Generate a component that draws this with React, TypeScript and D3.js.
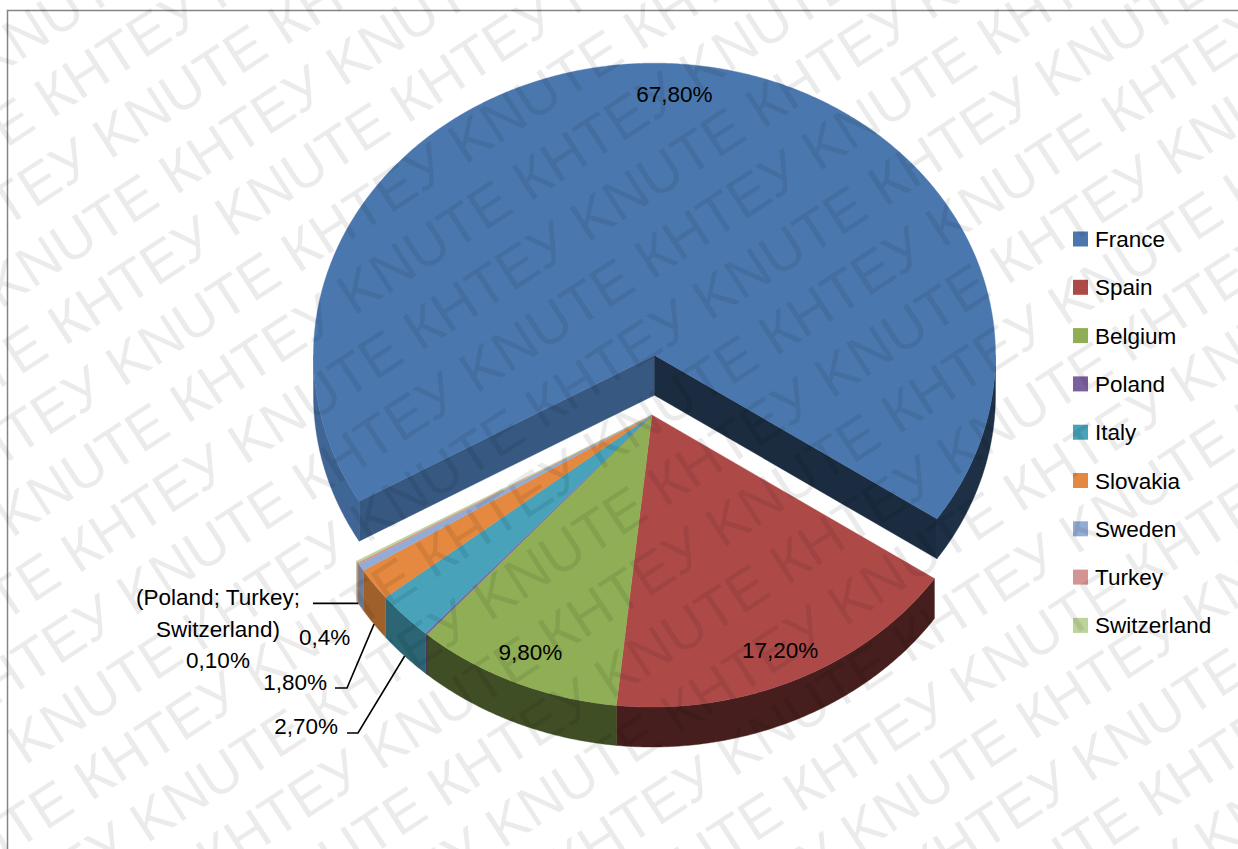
import React from 'react';
import * as d3 from 'd3';

// ---------- data ----------
const countries = ['France', 'Spain', 'Belgium', 'Poland', 'Italy', 'Slovakia', 'Sweden', 'Turkey', 'Switzerland'];
const shares = [67.8, 17.2, 9.8, 0.1, 2.7, 1.8, 0.4, 0.1, 0.1];
const pctLabels = ['67,80%', '17,20%', '9,80%', '0,10%', '2,70%', '1,80%', '0,4%', '0,10%', '0,10%'];
const topColors = ['#4a77ae', '#ad4a48', '#8fae55', '#7b60a0', '#47a2ba', '#e4893f', '#93acd5', '#d49493', '#bcd39a'];
const groupLabelLines = ['(Poland; Turkey;', 'Switzerland)', '0,10%'];
const watermarkWords = ['КНТЕУ', 'KNUTE'];

// ---------- layout ----------
const W = 1238;
const H = 849;
const CX = 652;
const CY = 415;
const RX = 341;
const RY = 292;
const DEPTH = 40;
const EXPLODE = 0.205;
const START_DEG = 240; // d3 pie convention (0 = 12 o'clock)
const FONT = "'Liberation Sans', Arial, sans-serif";
const FS = 22.5;

const xs = d3.scaleLinear().domain([-1, 1]).range([CX - RX, CX + RX]);
const ys = d3.scaleLinear().domain([-1, 1]).range([CY - RY, CY + RY]);

type Pt = [number, number];

function pt(theta: number, r: number, ox: number, oy: number, dz: number): Pt {
  return [xs(r * Math.cos(theta)) + ox, ys(r * Math.sin(theta)) + oy + dz];
}

function arcPts(a: number, b: number, ox: number, oy: number, dz: number): Pt[] {
  const step = (0.4 * Math.PI) / 180;
  const n = Math.max(2, Math.ceil(Math.abs(b - a) / step) + 1);
  const out: Pt[] = [];
  for (let i = 0; i < n; i++) {
    const t = a + ((b - a) * i) / (n - 1);
    out.push(pt(t, 1, ox, oy, dz));
  }
  return out;
}

const closed = d3.line<Pt>().curve(d3.curveLinearClosed);
const open = d3.line<Pt>();

function shade(c: string, f: number): string {
  const k = d3.rgb(c);
  return d3.rgb(k.r * f, k.g * f, k.b * f).formatHex();
}

function wallFactor(theta: number): number {
  const c = Math.max(0, -Math.cos(theta));
  return 0.4 + 0.5 * Math.pow(c, 2.5);
}

function visibleParts(a: number, b: number): [number, number][] {
  const res: [number, number][] = [];
  for (let k = -2; k <= 2; k++) {
    const lo = Math.max(a, 2 * Math.PI * k);
    const hi = Math.min(b, 2 * Math.PI * k + Math.PI);
    if (hi > lo) res.push([lo, hi]);
  }
  return res;
}

const pieGen = d3
  .pie<number>()
  .sort(null)
  .value((d) => d)
  .startAngle((START_DEG * Math.PI) / 180)
  .endAngle((START_DEG * Math.PI) / 180 + 2 * Math.PI);

export default function App() {
  const arcs = pieGen(shares);
  const slices = arcs.map((a, i) => {
    const s = a.startAngle - Math.PI / 2;
    const e = a.endAngle - Math.PI / 2;
    const mid = (s + e) / 2;
    const exploded = i === 0;
    const ox = exploded ? EXPLODE * RX * Math.cos(mid) : 0;
    const oy = exploded ? EXPLODE * RY * Math.sin(mid) : 0;
    return { i, s, e, mid, ox, oy, exploded, color: topColors[i] };
  });

  const renderSlice = (sl: (typeof slices)[number], part: 'sides' | 'top') => {
    const c0: Pt = [CX + sl.ox, CY + sl.oy];
    const c1: Pt = [CX + sl.ox, CY + sl.oy + DEPTH];
    if (part === 'top') {
      const pts: Pt[] = [c0, ...arcPts(sl.s, sl.e, sl.ox, sl.oy, 0)];
      return <path key={`t${sl.i}`} d={closed(pts) || ''} fill={sl.color} stroke={sl.color} strokeWidth={0.4} />;
    }
    const els: React.ReactNode[] = [];
    if (sl.exploded) {
      const faces: [number, number, string][] = [
        [sl.s, Math.cos(sl.s) < 0 ? 1 : 0, shade(sl.color, 0.74)],
        [sl.e, Math.cos(sl.e) > 0 ? 1 : 0, shade(sl.color, 0.37)],
      ];
      faces.forEach(([ang, vis, col], j) => {
        if (!vis) return;
        const pts: Pt[] = [c0, pt(ang, 1, sl.ox, sl.oy, 0), pt(ang, 1, sl.ox, sl.oy, DEPTH), c1];
        els.push(<path key={`r${sl.i}-${j}`} d={closed(pts) || ''} fill={col} stroke={col} strokeWidth={0.4} />);
      });
    }
    visibleParts(sl.s, sl.e).forEach(([lo, hi], j) => {
      const col = shade(sl.color, wallFactor((lo + hi) / 2));
      const pts: Pt[] = [...arcPts(lo, hi, sl.ox, sl.oy, 0), ...arcPts(hi, lo, sl.ox, sl.oy, DEPTH)];
      els.push(<path key={`w${sl.i}-${j}`} d={closed(pts) || ''} fill={col} stroke={col} strokeWidth={0.4} />);
    });
    return <g key={`s${sl.i}`}>{els}</g>;
  };

  const front = slices.filter((s) => !s.exploded);
  const back = slices.filter((s) => s.exploded);

  // inside labels (France, Spain, Belgium)
  const insideFrac = 0.89;
  const insideNudge = [9, 0, 0];
  const inside = [0, 1, 2].map((i) => {
    const sl = slices[i];
    const [x, y] = pt(sl.mid, insideFrac, sl.ox, sl.oy, 0);
    return (
      <text key={`il${i}`} x={x + insideNudge[i]} y={y + 7} textAnchor="middle" fontFamily={FONT} fontSize={FS} fill="#000">
        {pctLabels[i]}
      </text>
    );
  });

  // outside labels with leaders
  const wallBottom = (theta: number): Pt => pt(theta, 1, 0, 0, DEPTH);
  const italy = slices[4];
  const slovakia = slices[5];
  const sweden = slices[6];
  const turkey = slices[7];
  const italyEnd = wallBottom(italy.mid);
  const slovEnd = wallBottom(slovakia.mid);
  const groupEnd = wallBottom(turkey.mid);

  const italyLab = { x: 338, y: 734 };
  const slovLab = { x: 327, y: 690 };
  const swedenLab = { x: 299, y: 645 };
  const groupLab = { x: 218, y: 605, lh: 31.5 };

  // watermark rows
  const wmAngle = -33;
  const wmFont = 57;
  const wmPeriod = 406;
  const wmRows: React.ReactNode[] = [];
  const baseU = -483;
  const baseV = 458;
  const rowGap = 66;
  const rowShift = 233;
  const unit = `${watermarkWords[0]} ${watermarkWords[1]} `;
  const rowText = unit.repeat(7);
  for (let k = -9; k <= 17; k++) {
    const v = baseV + k * rowGap;
    let u0 = baseU + k * rowShift;
    u0 = ((u0 % wmPeriod) + wmPeriod) % wmPeriod;
    u0 -= wmPeriod * 2;
    wmRows.push(
      <text key={`wm${k}`} x={u0} y={v} fontFamily={FONT} fontSize={wmFont} fill="#000" fillOpacity={0.08} style={{ whiteSpace: 'pre' }}>
        {rowText}
      </text>
    );
  }

  const legendX = 1073;
  const legendY0 = 239;
  const legendGap = 48.3;

  return (
    <svg
      width={W}
      height={H}
      viewBox={`0 0 ${W} ${H}`}
      style={{ position: 'absolute', left: 0, top: 0, background: '#fff' }}
    >
      <rect x={0} y={0} width={W} height={H} fill="#fff" />
      <path d={`M7.5,${H} V10.5 H${W}`} fill="none" stroke="#858585" strokeWidth={1.5} />

      {back.map((s) => renderSlice(s, 'sides'))}
      {back.map((s) => renderSlice(s, 'top'))}
      {front.map((s) => renderSlice(s, 'sides'))}
      {front.map((s) => renderSlice(s, 'top'))}

      {inside}

      <path
        d={open([italyEnd, [italyLab.x + 20, italyLab.y - 1], [italyLab.x + 9, italyLab.y - 1]]) || ''}
        fill="none"
        stroke="#000"
        strokeWidth={1.6}
      />
      <path
        d={open([slovEnd, [slovLab.x + 20, slovLab.y - 2], [slovLab.x + 8, slovLab.y - 2]]) || ''}
        fill="none"
        stroke="#000"
        strokeWidth={1.6}
      />
      <path d={open([groupEnd, [313, groupEnd[1]]]) || ''} fill="none" stroke="#000" strokeWidth={1.6} />

      <text x={italyLab.x} y={italyLab.y} textAnchor="end" fontFamily={FONT} fontSize={FS}>
        {pctLabels[4]}
      </text>
      <text x={slovLab.x} y={slovLab.y} textAnchor="end" fontFamily={FONT} fontSize={FS}>
        {pctLabels[5]}
      </text>
      <text x={swedenLab.x} y={swedenLab.y} textAnchor="start" fontFamily={FONT} fontSize={FS}>
        {pctLabels[sweden.i]}
      </text>
      {groupLabelLines.map((t, j) => (
        <text key={`gl${j}`} x={groupLab.x} y={groupLab.y + j * groupLab.lh} textAnchor="middle" fontFamily={FONT} fontSize={FS}>
          {t}
        </text>
      ))}

      {countries.map((c, i) => (
        <g key={`lg${i}`}>
          <rect x={legendX} y={legendY0 + i * legendGap - 7.5} width={15} height={15} fill={topColors[i]} />
          <text x={legendX + 22} y={legendY0 + i * legendGap + 8} fontFamily={FONT} fontSize={FS} fill="#000">
            {c}
          </text>
        </g>
      ))}

      <g transform={`rotate(${wmAngle})`} style={{ pointerEvents: 'none' }}>
        {wmRows}
      </g>
    </svg>
  );
}
